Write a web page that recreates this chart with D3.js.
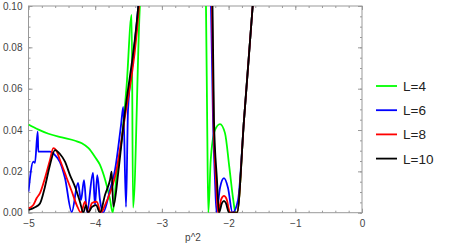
<!DOCTYPE html>
<html>
<head>
<meta charset="utf-8">
<script src="https://cdn.jsdelivr.net/npm/d3@7"></script>
<style>
    body { margin: 0; background: #fff; }
    svg { display: block; font-family: "Liberation Sans", Arial, sans-serif; }
    .frame line, .frame path { stroke: #999; }
    .tick-label { fill: #444; font-size: 10px; }
</style>
</head>
<body>
<div id="chart"></div>
<script>
let xMajorTicks = [-5, -4, -3, -2, -1, 0];
let yMajorTicks = [0, 0.02, 0.04, 0.06, 0.08, 0.10];
let seriesNames = ["L=4", "L=6", "L=8", "L=10"];
let seriesColors = ["#00ff00", "#0000ff", "#ff0000", "#000000"];

// L=4
let pointsL4 = [
    [-5, 0.0427], [-4.85, 0.0402], [-4.7, 0.0382], [-4.5, 0.0364], [-4.3, 0.0348],
    [-4.2, 0.0336], [-4.1, 0.0312], [-4.0, 0.0268], [-3.93, 0.0232], [-3.85, 0.0158],
    [-3.78, 0.0068], [-3.737, 0.0], [-3.68, 0.018], [-3.6, 0.036], [-3.53, 0.061],
    [-3.453, 0.0957], [-3.433, 0.0025], [-3.33, 0.1], [-3.31, 0.11]
];
let pointsL4b = [
    [-2.345, 0.11], [-2.339, 0.1], [-2.32, 0.04], [-2.304, 0.0], [-2.268, 0.0255],
    [-2.204, 0.040], [-2.129, 0.0429], [-2.054, 0.0385], [-1.99, 0.0223], [-1.93, 0.0062],
    [-1.897, 0.0], [-1.874, 0.0], [-1.769, 0.0449], [-1.639, 0.1], [-1.616, 0.11]
];

// L=6
let pointsL6 = [
    [-5, 0.0102], [-4.928, 0.0247], [-4.903, 0.0241], [-4.862, 0.0392], [-4.853, 0.0295],
    [-4.678, 0.0295], [-4.603, 0.0279], [-4.528, 0.0245], [-4.453, 0.0168], [-4.352, 0.0003],
    [-4.258, 0.0144], [-4.213, 0.0061], [-4.168, 0.0158], [-4.123, 0.0003], [-4.033, 0.0192],
    [-4.003, 0.0037], [-3.969, 0.0182], [-3.928, 0.0061], [-3.883, 0.0], [-3.778, 0.011],
    [-3.703, 0.0207], [-3.613, 0.0424], [-3.579, 0.0512], [-3.538, 0.0028], [-3.508, 0.0497],
    [-3.433, 0.0739], [-3.354, 0.1], [-3.336, 0.107]
];
let pointsL6b = [
    [-2.279, 0.11], [-2.264, 0.1], [-2.234, 0.0449], [-2.204, 0.0158], [-2.181, 0.0003],
    [-2.129, 0.012], [-2.069, 0.0167], [-2.009, 0.012], [-1.942, 0.0], [-1.859, 0.0061],
    [-1.769, 0.0449], [-1.639, 0.1], [-1.616, 0.11]
];

// L=8
let pointsL8 = [
    [-5, 0.0021], [-4.928, 0.0037], [-4.877, 0.0071], [-4.828, 0.0095], [-4.753, 0.0168],
    [-4.678, 0.0255], [-4.628, 0.0312], [-4.588, 0.0303], [-4.528, 0.0255], [-4.427, 0.0168],
    [-4.348, 0.01], [-4.277, 0.0037], [-4.213, 0.0], [-4.153, 0.0053], [-4.103, 0.0],
    [-4.048, 0.0047], [-3.978, 0.0053], [-3.913, 0.0], [-3.853, 0.0037], [-3.778, 0.0095],
    [-3.703, 0.0174], [-3.561, 0.0449], [-3.343, 0.1], [-3.328, 0.107]
];
let pointsL8b = [
    [-2.262, 0.11], [-2.249, 0.1], [-2.226, 0.0449], [-2.189, 0.0158], [-2.159, 0.0],
    [-2.11, 0.0066], [-2.069, 0.0081], [-2.03, 0.0066], [-1.979, 0.0], [-1.874, 0.0],
    [-1.769, 0.0449], [-1.639, 0.1], [-1.616, 0.11]
];

// L=10
let pointsL10 = [
    [-5, 0.0013], [-4.903, 0.0026], [-4.828, 0.0045], [-4.753, 0.0126], [-4.678, 0.0231],
    [-4.603, 0.0303], [-4.528, 0.0284], [-4.453, 0.0247], [-4.378, 0.0182], [-4.303, 0.0126],
    [-4.228, 0.0052], [-4.178, 0.0], [-4.138, 0.0037], [-4.108, 0.0], [-4.048, 0.0028],
    [-3.988, 0.0037], [-3.928, 0.0], [-3.853, 0.0086], [-3.778, 0.0158], [-3.753, 0.0198],
    [-3.728, 0.0029], [-3.653, 0.0198], [-3.568, 0.0449], [-3.354, 0.1], [-3.336, 0.107]
];
let pointsL10b = [
    [-2.254, 0.11], [-2.241, 0.1], [-2.219, 0.0449], [-2.174, 0.0158], [-2.144, 0.0],
    [-2.1, 0.0046], [-2.069, 0.0057], [-2.04, 0.0046], [-1.994, 0.0], [-1.874, 0.0],
    [-1.769, 0.0449], [-1.639, 0.1], [-1.616, 0.11]
];

let seriesPoints = [
    [pointsL4, pointsL4b],
    [pointsL6, pointsL6b],
    [pointsL8, pointsL8b],
    [pointsL10, pointsL10b]
];

let outerWidth = 454, outerHeight = 246;
let plotLeft = 28.5, plotRight = 362, plotTop = 6, plotBottom = 212.7;

let svg = d3.select("#chart").append("svg")
    .attr("width", outerWidth)
    .attr("height", outerHeight);

let xScale = d3.scaleLinear().domain([-5, 0]).range([plotLeft, plotRight]);
let yScale = d3.scaleLinear().domain([0, 0.10]).range([plotBottom, plotTop]);

svg.append("clipPath").attr("id", "plot-clip")
    .append("rect")
    .attr("x", plotLeft).attr("y", plotTop)
    .attr("width", plotRight - plotLeft).attr("height", plotBottom - plotTop);

// frame with inward ticks, labels only on left and bottom
let minus = function(v){ return String(v).replace("-", "\u2212"); };
let xMinor = d3.range(-5, 0.001, 0.2);
let yMinor = d3.range(0, 0.1001, 0.005);

let frame = svg.append("g").classed("frame", true);

function addTicks(axis, translate, values, size, labels){
    let g = frame.append("g")
        .attr("transform", translate)
        .call(axis.tickValues(values).tickSize(-size))
        .call(function(g){ g.select(".domain").remove(); });
    if(labels)
        g.selectAll("text").attr("class", "tick-label").attr("fill", null);
    else
        g.selectAll("text").remove();
    return g;
}

addTicks(d3.axisBottom(xScale), "translate(0," + plotBottom + ")", xMinor, 2, false);
addTicks(d3.axisBottom(xScale).tickPadding(7).tickFormat(minus), "translate(0," + plotBottom + ")", xMajorTicks, 4, true);
addTicks(d3.axisTop(xScale), "translate(0," + plotTop + ")", xMinor, 2, false);
addTicks(d3.axisTop(xScale), "translate(0," + plotTop + ")", xMajorTicks, 4, false);
addTicks(d3.axisLeft(yScale), "translate(" + plotLeft + ",0)", yMinor, 2, false);
addTicks(d3.axisLeft(yScale).tickPadding(6).tickFormat(d3.format(".2f")), "translate(" + plotLeft + ",0)", yMajorTicks, 4, true);
addTicks(d3.axisRight(yScale), "translate(" + plotRight + ",0)", yMinor, 2, false);
addTicks(d3.axisRight(yScale), "translate(" + plotRight + ",0)", yMajorTicks, 4, false);

frame.append("rect")
    .attr("x", plotLeft).attr("y", plotTop)
    .attr("width", plotRight - plotLeft).attr("height", plotBottom - plotTop)
    .attr("fill", "none").attr("stroke", "#999").attr("stroke-width", 1);

svg.append("text")
    .attr("x", 193).attr("y", 241)
    .attr("text-anchor", "middle")
    .attr("class", "tick-label")
    .text("p^2");

// curves
let lineFormatter = d3.line()
    .curve(d3.curveMonotoneX)
    .x(function(d){ return xScale(d[0]); })
    .y(function(d){ return yScale(d[1]); });

let curves = svg.append("g").attr("clip-path", "url(#plot-clip)");
seriesPoints.forEach(function(parts, i){
    parts.forEach(function(pts){
        curves.append("path")
            .datum(pts)
            .attr("d", lineFormatter)
            .attr("fill", "none")
            .attr("stroke", seriesColors[i])
            .attr("stroke-width", 1.8)
            .attr("stroke-linejoin", "round");
    });
});

// legend
let legend = svg.append("g").attr("transform", "translate(376,86)");
let legendItems = legend.selectAll(".legend-item")
    .data(seriesNames)
    .enter()
    .append("g")
    .attr("class", "legend-item")
    .attr("transform", function(d, i){ return "translate(0," + (i * 24.2) + ")"; });
legendItems.append("line")
    .attr("x1", 0).attr("x2", 21)
    .attr("stroke", function(d, i){ return seriesColors[i]; })
    .attr("stroke-width", 1.8);
legendItems.append("text")
    .attr("x", 27).attr("y", 5)
    .attr("fill", "#222")
    .style("font-size", "13.5px")
    .text(function(d){ return d; });
</script>
</body>
</html>
